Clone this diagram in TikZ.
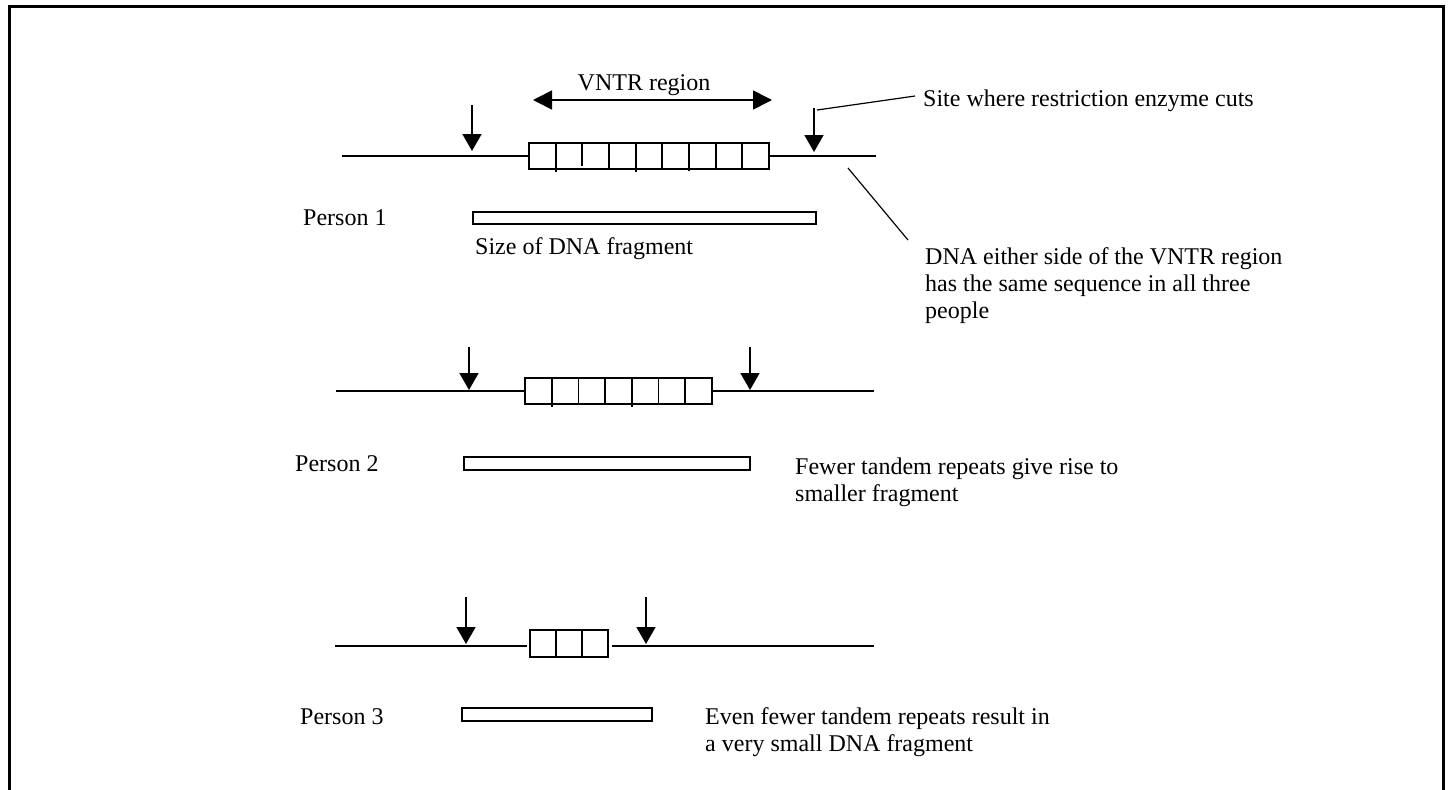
\documentclass[tikz,border=0pt]{standalone}
\usepackage{fontspec}
\setmainfont{Liberation Serif}
\usetikzlibrary{arrows.meta}
\begin{document}
\begin{tikzpicture}[x=1pt,y=-1pt,
  lbl/.style={font=\fontsize{24}{27}\selectfont, inner sep=0pt, anchor=base west},
  dna/.style={line width=1.7pt},
  rep/.style={draw, line width=1.7pt, inner sep=0pt, minimum height=26pt},
  cut/.style={line width=1.7pt, -{Triangle[width=19pt,length=17pt]}},
  frag/.style={draw, line width=1.6pt, inner sep=0pt},
  lead/.style={line width=1.2pt}]
\useasboundingbox (0,0) rectangle (1452,790);
\draw[line width=2.8pt] (9.5,800) -- (9.5,6.2) -- (1443.3,6.2) -- (1443.3,800);

% ---------- Person 1 ----------
\node[rep, minimum width=240pt] (r1) at (649,156) {};
\foreach \i/\e in {1/3,2/-3,3/0,4/3,5/0,6/2,7/0,8/0}
  \draw[dna] ({529+\i*240/9},143) -- ({529+\i*240/9},{169+\e});
\coordinate (l1a) at (342,156);
\coordinate (l1b) at (876,156);
\draw[dna] (l1a) -- (r1.west);
\draw[dna] (r1.east) -- (l1b);
\coordinate (c1a) at (472,105); \coordinate (c1b) at (472,151);
\coordinate (c1c) at (814,108); \coordinate (c1d) at (814,152);
\draw[cut] (c1a) -- (c1b);
\draw[cut] (c1c) -- (c1d);
\coordinate (v1) at (533,100); \coordinate (v2) at (772,100);
\draw[line width=1.7pt, {Triangle[width=19pt,length=19pt]}-{Triangle[width=19pt,length=19pt]}] (v1) -- (v2);
\node[lbl, anchor=base] (vntr) at (644,90) {VNTR region};
\node[lbl] (site) at (923,106) {Site where restriction enzyme cuts};
\coordinate (s1) at (817,110); \coordinate (s2) at (915,96);
\draw[lead] (s1) -- (s2);
\coordinate (d1) at (848,168); \coordinate (d2) at (908,240);
\draw[lead] (d1) -- (d2);
\node[lbl] (dna1) at (925,264) {DNA either side of the VNTR region};
\node[lbl] (dna2) at (925,291) {has the same sequence in all three};
\node[lbl] (dna3) at (925,318) {people};
\node[lbl] (p1) at (303,225) {Person 1};
\node[frag, minimum width=343pt, minimum height=12pt] (f1) at (644.5,218) {};
\node[lbl] (size) at (475,254) {Size of DNA fragment};

% ---------- Person 2 ----------
\node[rep, minimum width=187pt] (r2) at (618.5,391) {};
\foreach \i/\e in {1/3,2/0,3/0,4/3,5/0,6/0}
  \draw[dna] ({525+\i*187/7},378) -- ({525+\i*187/7},{404+\e});
\coordinate (l2a) at (336,391);
\coordinate (l2b) at (874,391);
\draw[dna] (l2a) -- (r2.west);
\draw[dna] (r2.east) -- (l2b);
\coordinate (c2a) at (469,347); \coordinate (c2b) at (469,390);
\coordinate (c2c) at (750,347); \coordinate (c2d) at (750,390);
\draw[cut] (c2a) -- (c2b);
\draw[cut] (c2c) -- (c2d);
\node[lbl] (p2) at (295,471) {Person 2};
\node[frag, minimum width=286pt, minimum height=13pt] (f2) at (607,463.5) {};
\node[lbl] (few1) at (795,474) {Fewer tandem repeats give rise to};
\node[lbl] (few2) at (795,501) {smaller fragment};

% ---------- Person 3 ----------
\node[rep, minimum width=78pt, minimum height=27pt] (r3) at (569,643.5) {};
\foreach \i in {1,2}
  \draw[dna] ({530+\i*78/3},630) -- ({530+\i*78/3},657);
\coordinate (l3a) at (335,646);
\coordinate (l3b) at (874,646);
\draw[dna] (l3a) -- ([xshift=-2pt]r3.west |- l3a);
\draw[dna] ([xshift=3pt]r3.east |- l3b) -- (l3b);
\coordinate (c3a) at (466,597); \coordinate (c3b) at (466,644);
\coordinate (c3c) at (646,597); \coordinate (c3d) at (646,644);
\draw[cut] (c3a) -- (c3b);
\draw[cut] (c3c) -- (c3d);
\node[lbl] (p3) at (300,724) {Person 3};
\node[frag, minimum width=190pt, minimum height=13pt] (f3) at (557,714.5) {};
\node[lbl] (even1) at (705,724) {Even fewer tandem repeats result in};
\node[lbl] (even2) at (705,751) {a very small DNA fragment};
\end{tikzpicture}
\end{document}
